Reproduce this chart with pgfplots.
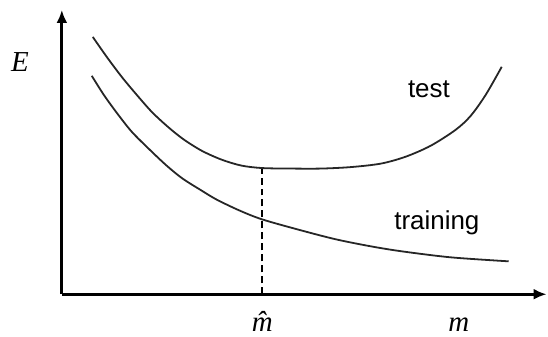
\documentclass[border=0pt]{standalone}
\usepackage{fontspec}
\setmainfont{Liberation Serif}
\newfontfamily\arial{Liberation Sans}
\usepackage{pgfplots}
\usetikzlibrary{arrows.meta}
\pgfplotsset{compat=1.18}
\begin{document}
\begin{tikzpicture}
\begin{axis}[
  x=1pt, y=1pt,
  xmin=0, xmax=486, ymin=0, ymax=285,
  axis lines=left,
  axis line style={line width=2.8pt, -{Latex[length=13pt,width=11pt]}},
  xtick=\empty, ytick=\empty,
  clip=false,
]
\path (axis cs:-62,-42) rectangle (axis cs:486,295);
\addplot[smooth, tension=0.5, line width=1.8pt, color=black!85] coordinates {
 (31,258) (45,238) (60,218) (75,200) (90,183) (105,169) (121,156) (140,144) (160,135) (180,129) (201,126.5) (230,126) (260,126) (290,127.5) (320,131) (345,138) (370,149) (395,165) (410,179) (425,200) (441,228)};
\addplot[smooth, tension=0.5, line width=1.8pt, color=black!85] coordinates {
 (30,219) (42,200) (55,182) (70,163) (88,145) (105,129) (121,116) (140,104) (155,95) (178,84) (201,75) (240,64) (275,55) (310,48) (341,43) (390,37) (448,33)};
\addplot[line width=1.8pt, dash pattern=on 7pt off 4pt] coordinates {(201,0) (201,126)};
\node[font=\fontsize{26}{30}\selectfont\arial] at (axis cs:368,206) {test};
\node[font=\fontsize{26}{30}\selectfont\arial] at (axis cs:376,72) {training};
\node[font=\fontsize{29}{30}\selectfont\itshape] at (axis cs:-42,233) {E};
\node[font=\fontsize{29}{30}\selectfont\itshape, anchor=base, inner sep=0pt] at (axis cs:398,-37) {m};
\node[font=\fontsize{29}{30}\selectfont\itshape, anchor=base, inner sep=0pt] at (axis cs:201,-37) {\^{m}};
\end{axis}
\end{tikzpicture}
\end{document}
